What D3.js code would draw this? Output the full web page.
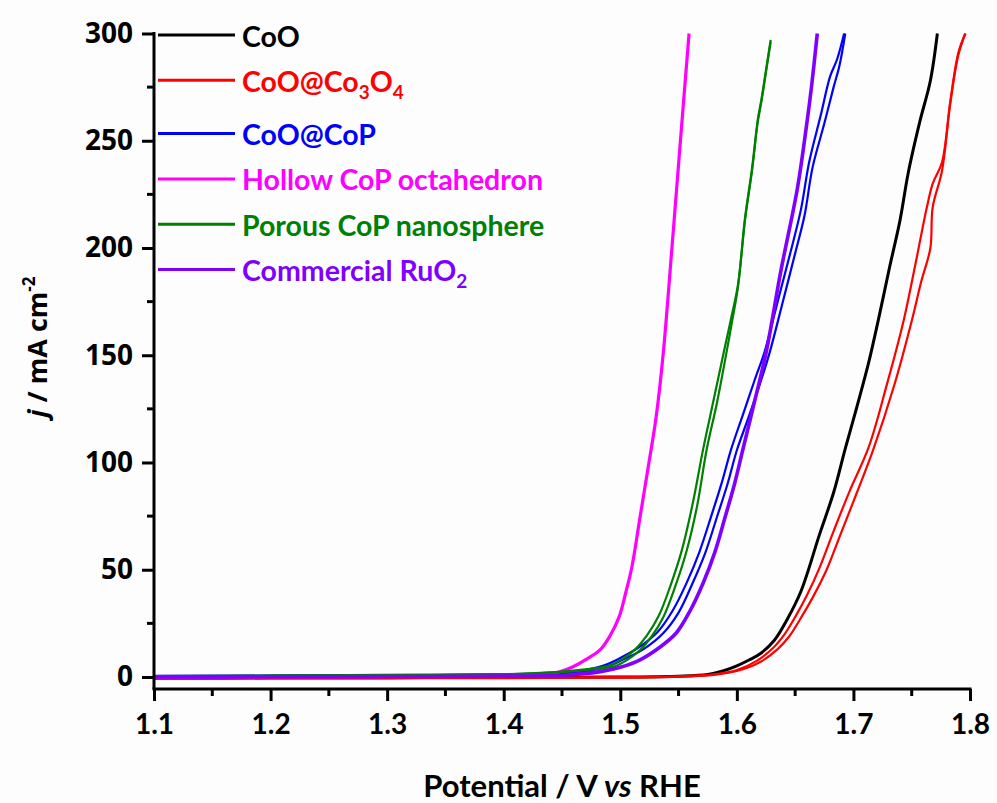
<!DOCTYPE html>
<html>
<head>
<meta charset="utf-8">
<script src="https://cdn.jsdelivr.net/npm/d3@7"></script>
<style>
  html, body { margin: 0; padding: 0; background: #fdfdfd; }
  svg { display: block; }
</style>
</head>
<body>
<svg id="chart" width="997" height="803"></svg>
<script>
// ---------------- DATA ----------------
const seriesNames = ["CoO", "CoO@Co3O4", "CoO@CoP", "Hollow CoP octahedron", "Porous CoP nanosphere", "Commercial RuO2"];
const seriesColors = ["#000000", "#ff0000", "#0000ff", "#ff00ff", "#008000", "#8000ff"];

const xTicks = [1.1, 1.2, 1.3, 1.4, 1.5, 1.6, 1.7, 1.8];
const yTicks = [0, 50, 100, 150, 200, 250, 300];

// CoO (black)
const cooV = [1.10, 1.20, 1.30, 1.40, 1.50, 1.55, 1.575, 1.588, 1.600, 1.610, 1.620, 1.632, 1.643, 1.655, 1.671, 1.683, 1.693, 1.703, 1.713, 1.722, 1.731, 1.740, 1.747, 1.757, 1.766, 1.772];
const cooJ = [-0.5, -0.4, -0.3, -0.2, 0.0, 0.4, 1.2, 2.8, 5.2, 7.8, 10.8, 17, 26.7, 40, 66.6, 86, 106.5, 126, 146.4, 168, 191, 213, 235, 259, 278, 300];

// CoO@Co3O4 (red) forward / reverse scans
const co3o4FwdV = [1.10, 1.20, 1.30, 1.40, 1.50, 1.55, 1.58, 1.60, 1.620, 1.635, 1.645, 1.654, 1.665, 1.677, 1.689, 1.703, 1.717, 1.735, 1.750, 1.758, 1.766, 1.768, 1.776, 1.783, 1.790, 1.796];
const co3o4FwdJ = [-0.8, -0.7, -0.6, -0.5, -0.3, 0.2, 1.0, 2.8, 7, 13, 19, 26.7, 37, 50, 66.6, 86, 106, 136, 166, 184, 200, 219, 236, 267, 290, 300];
const co3o4RevV = [1.10, 1.20, 1.30, 1.40, 1.50, 1.55, 1.58, 1.60, 1.617, 1.631, 1.641, 1.649, 1.660, 1.671, 1.683, 1.697, 1.713, 1.729, 1.743, 1.753, 1.763, 1.768, 1.776, 1.783, 1.790, 1.796];
const co3o4RevJ = [-0.6, -0.5, -0.4, -0.3, -0.1, 0.3, 1.2, 3.2, 7.5, 13.5, 20, 27, 38, 51, 68, 87, 107, 137, 166, 192, 219, 230, 240, 268, 291, 300];

// CoO@CoP (blue) forward / reverse scans
const copFwdV = [1.10, 1.20, 1.30, 1.40, 1.44, 1.468, 1.490, 1.502, 1.520, 1.537, 1.550, 1.562, 1.573, 1.583, 1.592, 1.600, 1.610, 1.620, 1.628, 1.639, 1.650, 1.658, 1.665, 1.675, 1.683, 1.688, 1.693];
const copFwdJ = [0.3, 0.5, 0.8, 1.0, 1.5, 2.5, 5, 8, 13, 20.5, 30, 43.7, 58, 74.7, 90, 105.7, 121, 137, 151, 174, 197.5, 215, 237.7, 258, 275, 285, 300];
const copRevV = [1.10, 1.20, 1.30, 1.40, 1.44, 1.465, 1.485, 1.498, 1.515, 1.532, 1.545, 1.557, 1.568, 1.578, 1.587, 1.595, 1.605, 1.615, 1.624, 1.635, 1.646, 1.655, 1.662, 1.672, 1.680, 1.686, 1.692];
const copRevJ = [0.5, 0.7, 1.0, 1.2, 1.8, 2.8, 5.2, 8.3, 13.5, 21, 31, 44, 58.5, 75, 90.5, 106, 122, 138, 152, 175, 198, 218, 240, 262, 280, 288, 300];

// Hollow CoP octahedron (magenta)
const hollowV = [1.10, 1.20, 1.30, 1.38, 1.42, 1.437, 1.448, 1.4595, 1.470, 1.4826, 1.491, 1.499, 1.505, 1.510, 1.517, 1.524, 1.5307, 1.5367, 1.544, 1.551, 1.559];
const hollowJ = [0.0, 0.1, 0.3, 0.5, 0.8, 1.0, 2.4, 4.8, 8.0, 12.6, 19, 28, 40, 51.4, 74.7, 98, 121, 150, 198, 246, 300];

// Porous CoP nanosphere (green) forward / reverse scans
const porousFwdV = [1.10, 1.20, 1.30, 1.40, 1.44, 1.47, 1.494, 1.506, 1.517, 1.527, 1.537, 1.547, 1.557, 1.566, 1.574, 1.583, 1.591, 1.596, 1.601, 1.607, 1.613, 1.618, 1.621, 1.625, 1.629];
const porousFwdJ = [0.3, 0.5, 0.8, 1.2, 2.0, 3.2, 4.8, 8, 12.6, 19, 28, 42, 59, 80, 105.7, 128, 151, 166, 182, 213, 236, 259, 268, 282, 296];
const porousRevV = [1.10, 1.20, 1.30, 1.40, 1.44, 1.468, 1.490, 1.502, 1.513, 1.523, 1.533, 1.543, 1.553, 1.562, 1.571, 1.580, 1.589, 1.595, 1.601, 1.607, 1.613, 1.618, 1.621, 1.625, 1.629];
const porousRevJ = [0.4, 0.6, 0.9, 1.3, 2.2, 3.5, 5.2, 8.5, 13, 19.5, 28.5, 42.5, 59.5, 80.5, 106, 129, 152, 167, 183, 214, 237, 260, 269, 283, 297];

// Commercial RuO2 (violet)
const ruo2V = [1.10, 1.20, 1.30, 1.40, 1.45, 1.483, 1.500, 1.517, 1.533, 1.548, 1.560, 1.571, 1.581, 1.590, 1.598, 1.605, 1.615, 1.625, 1.638, 1.652, 1.660, 1.664, 1.669];
const ruo2J = [0.0, 0.1, 0.2, 0.4, 0.8, 2.5, 4.5, 8, 13.5, 20.5, 31, 43.7, 58, 74.7, 90, 105.7, 128, 151, 190, 228, 258, 275, 300];

// ---------------- CHART ----------------
const svg = d3.select("#chart");
const x = d3.scaleLinear().domain([1.1, 1.8]).range([154, 970]);
const y = d3.scaleLinear().domain([-5.6, 300]).range([689, 33.5]);

const curves = [
  { c: 0, w: 3.0, runs: [[cooV, cooJ]] },
  { c: 1, w: 2.2, runs: [[co3o4FwdV, co3o4FwdJ], [co3o4RevV, co3o4RevJ]] },
  { c: 2, w: 2.2, runs: [[copFwdV, copFwdJ], [copRevV, copRevJ]] },
  { c: 3, w: 3.2, runs: [[hollowV, hollowJ]] },
  { c: 4, w: 2.2, runs: [[porousFwdV, porousFwdJ], [porousRevV, porousRevJ]] },
  { c: 5, w: 3.6, runs: [[ruo2V, ruo2J]] }
];

const line = d3.line().x(d => x(d[0])).y(d => y(d[1])).curve(d3.curveCatmullRom.alpha(0.5));

const gCurves = svg.append("g");
curves.forEach(cv => {
  cv.runs.forEach(([vs, js]) => {
    gCurves.append("path")
      .datum(vs.map((v, i) => [v, js[i]]))
      .attr("d", line)
      .attr("fill", "none")
      .attr("stroke", seriesColors[cv.c])
      .attr("stroke-width", cv.w)
      .attr("stroke-linejoin", "round");
  });
});

// Axes
const xMinor = d3.range(1.15, 1.8, 0.1);
const yMinor = d3.range(25, 300, 50);

const xAxis = svg.append("g").attr("transform", "translate(0,689)");
xAxis.call(d3.axisBottom(x).tickValues(xTicks).tickSize(12).tickSizeOuter(0).tickPadding(13).tickFormat(d3.format(".1f")));
xAxis.append("g").selectAll("line").data(xMinor).join("line")
  .attr("x1", d => x(d)).attr("x2", d => x(d)).attr("y1", 0).attr("y2", 7)
  .attr("stroke", "#000").attr("stroke-width", 3);

const yAxis = svg.append("g").attr("transform", "translate(154,0)");
yAxis.call(d3.axisLeft(y).tickValues(yTicks).tickSize(12).tickSizeOuter(0).tickPadding(9));
yAxis.append("g").selectAll("line").data(yMinor).join("line")
  .attr("y1", d => y(d)).attr("y2", d => y(d)).attr("x1", 0).attr("x2", -7)
  .attr("stroke", "#000").attr("stroke-width", 3);

[xAxis, yAxis].forEach(a => {
  a.select(".domain").attr("stroke", "#000").attr("stroke-width", 3);
  a.selectAll(".tick line").attr("stroke", "#000").attr("stroke-width", 3);
});
yAxis.select(".domain").attr("d", `M0,${y(300) - 1.5}V${689}`);
xAxis.select(".domain").attr("d", `M${154 - 1.5},0H${970 + 1.5}`);

xAxis.selectAll(".tick text")
  .attr("font-family", "Lato, 'Open Sans', sans-serif")
  .attr("font-weight", "bold").attr("font-size", 28).attr("fill", "#000");
yAxis.selectAll(".tick text")
  .attr("font-family", "'Open Sans', sans-serif")
  .attr("font-weight", "bold").attr("font-size", 28).attr("fill", "#000");

// Axis titles
const xt = svg.append("text")
  .attr("x", 562).attr("y", 797)
  .attr("text-anchor", "middle")
  .attr("font-family", "Lato, 'Open Sans', sans-serif")
  .attr("font-weight", "bold").attr("font-size", 31).attr("fill", "#000");
xt.append("tspan").text("Potential / V ");
xt.append("tspan").attr("font-style", "italic").text("vs");
xt.append("tspan").text(" RHE");

const yt = svg.append("text")
  .attr("transform", "translate(47,347) rotate(-90)")
  .attr("text-anchor", "middle")
  .attr("font-family", "'Open Sans', sans-serif")
  .attr("font-weight", "bold").attr("font-size", 27).attr("fill", "#000");
yt.append("tspan").attr("font-style", "italic").text("j");
yt.append("tspan").text(" / mA cm");
yt.append("tspan").attr("font-size", 17).attr("dy", -12).text("-2");

// Legend
const legend = svg.append("g");
seriesNames.forEach((name, i) => {
  const ly = 35 + i * 45.3 + (i >= 2 ? 8 : 0);
  legend.append("line")
    .attr("x1", 158).attr("x2", 235).attr("y1", ly).attr("y2", ly)
    .attr("stroke", seriesColors[i]).attr("stroke-width", 3);
  const t = legend.append("text")
    .attr("x", 242).attr("y", ly + 11.5)
    .attr("font-family", "Lato, 'Open Sans', sans-serif")
    .attr("font-weight", "bold").attr("font-size", 28.5)
    .attr("fill", seriesColors[i]);
  if (name === "CoO@Co3O4") {
    t.append("tspan").text("CoO@Co");
    t.append("tspan").attr("font-size", 19).attr("dy", 7).text("3");
    t.append("tspan").attr("dy", -7).text("O");
    t.append("tspan").attr("font-size", 19).attr("dy", 7).text("4");
  } else if (name === "Commercial RuO2") {
    t.append("tspan").text("Commercial RuO");
    t.append("tspan").attr("font-size", 19).attr("dy", 7).text("2");
  } else {
    t.text(name);
  }
});
</script>
</body>
</html>
